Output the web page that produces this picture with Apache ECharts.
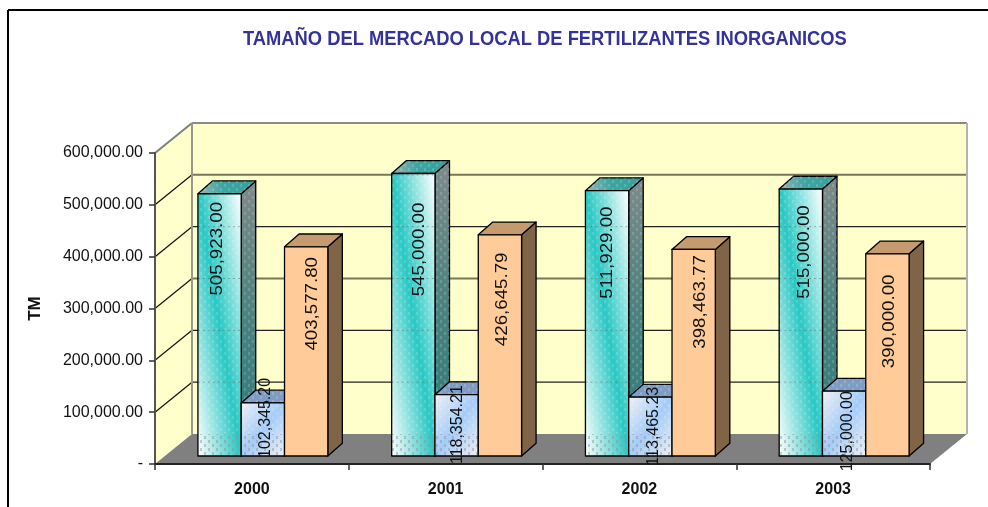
<!DOCTYPE html>
<html>
<head>
<meta charset="utf-8">
<style>html,body{margin:0;padding:0;background:#fff;overflow:hidden}#c{width:988px;height:507px}</style>
<script src="https://cdn.jsdelivr.net/npm/echarts@6/dist/echarts.min.js"></script>
</head>
<body>
<div id="c"></div>
<script>
const titleText = 'TAMAÑO DEL MERCADO LOCAL DE FERTILIZANTES INORGANICOS';
const categories = ['2000', '2001', '2002', '2003'];
const cyanValues = [505923.00, 545000.00, 511929.00, 515000.00];
const blueValues = [102345.20, 118354.21, 113465.23, 125000.00];
const orangeValues = [403577.80, 426645.79, 398463.77, 390000.00];
const yTicks = [0, 100000, 200000, 300000, 400000, 500000, 600000];

// label nudges relative to the bar's top (down) and centre (right), in pixels
const cyanLabelDrop = [55, 76, 62, 63], cyanLabelShift = [-2, 6, 0, 3];
const blueLabelDrop = [15, 30, 29, 40], blueLabelShift = [2.5, 0.5, 3, 3];
const orangeLabelDrop = [57, 64.5, 52.5, 67.5], orangeLabelShift = [6, 2.5, 7, 2];

const FONT = '"Liberation Sans", Arial, sans-serif';
const WALL = [37, -30];      // wall depth
const BAR = [14.5, -12.8];   // bar depth
const INSET = [11, -8];      // bar front plane relative to axis plane
const BAR_W = 43.3;

function makePattern(color) {
  const c = document.createElement('canvas');
  c.width = 8; c.height = 8;
  const g = c.getContext('2d');
  g.fillStyle = color;
  g.fillRect(0, 0, 2, 3);
  g.fillRect(4, 4, 2, 3);
  return c;
}
const pattern = { image: makePattern('rgba(255,255,255,0.16)'), repeat: 'repeat' };
const floorPattern = { image: makePattern('rgba(120,120,120,0.38)'), repeat: 'repeat' };

// gradient over a bar's front, skewed so its bands follow one of the face's diagonals
function faceGradient(x, y, w, h, alongMainDiagonal, colors) {
  const L = Math.sqrt(w * w + h * h);
  const dx = h / L, dy = (alongMainDiagonal ? -w : w) / L;
  const half = w * h / L;
  const cx = x + w / 2, cy = y + h / 2;
  return {
    type: 'linear', global: true,
    x: cx - dx * half, y: cy - dy * half, x2: cx + dx * half, y2: cy + dy * half,
    colorStops: colors.map((color, i) => ({ offset: i / (colors.length - 1), color }))
  };
}
const looks = [
  {
    front: (x, y, w, h) => faceGradient(x, y, w, h, true, ['#ffffff', '#28c8c4', '#ffffff']),
    top: { type: 'linear', x: 1, y: 0, x2: 0, y2: 1, colorStops: [{ offset: 0, color: '#3a9f9b' }, { offset: 0.55, color: '#3aa6a2' }, { offset: 1, color: '#a3b4b4' }] },
    side: { type: 'linear', x: 0, y: 0, x2: 0, y2: 1, colorStops: [{ offset: 0, color: '#7f8a8a' }, { offset: 0.5, color: '#4a827f' }, { offset: 1, color: '#2a7c7a' }] },
    tex: true, font: 17, scale: 1.1
  },
  {
    front: (x, y, w, h) => faceGradient(x, y, w, h, false, ['#eef0f4', '#a4ccf8', '#eef0f4']),
    top: '#7f9cc4', side: '#5f7f9f', tex: true, font: 16, scale: 1
  },
  { front: () => '#FFCC99', top: '#C49A6E', side: '#806448', tex: false, font: 17, scale: 1.1 }
];

function wallsItem(params, api) {
  const o = api.coord([0, 0]);
  const leftX = o[0] - api.size([1, 0])[0] / 2;
  const rightX = leftX + api.size([1, 0])[0] * categories.length;
  const y0 = o[1];
  const yTop = api.coord([0, yTicks[yTicks.length - 1]])[1];
  const bx = leftX + WALL[0], by = y0 + WALL[1];
  const wall = '#FFFFCC';
  const kids = [
    { type: 'polygon', shape: { points: [[leftX, y0], [leftX, yTop], [bx, yTop + WALL[1]], [bx, by]] }, style: { fill: wall, stroke: null } },
    { type: 'polygon', shape: { points: [[bx, yTop + WALL[1]], [rightX + WALL[0], yTop + WALL[1]], [rightX + WALL[0], by], [bx, by]] }, style: { fill: wall, stroke: null } },
    { type: 'polygon', shape: { points: [[leftX, y0], [bx, by], [rightX + WALL[0], by], [rightX, y0]] }, style: { fill: '#808080', stroke: null } }
  ];
  yTicks.forEach((t, k) => {
    if (t === 0) return;
    const y = api.coord([0, t])[1];
    const top = k === yTicks.length - 1;
    const heavy = t === 300000 || t === 500000;
    kids.push({ type: 'line', shape: { x1: leftX, y1: y, x2: bx, y2: y + WALL[1] }, style: { stroke: top ? '#808080' : '#111', lineWidth: top ? 2 : 1.2 } });
    kids.push({ type: 'line', shape: { x1: bx, y1: y + WALL[1], x2: rightX + WALL[0], y2: y + WALL[1] }, style: { stroke: top ? '#8a8a80' : heavy ? '#77775a' : '#222', lineWidth: heavy || top ? 2 : 1.2 } });
  });
  kids.push({ type: 'line', shape: { x1: bx, y1: yTop + WALL[1], x2: bx, y2: by }, style: { stroke: '#99998f', lineWidth: 2 } });
  kids.push({ type: 'line', shape: { x1: rightX + WALL[0], y1: yTop + WALL[1], x2: rightX + WALL[0], y2: by }, style: { stroke: '#b4b4aa', lineWidth: 2 } });
  return { type: 'group', children: kids };
}

function barRenderer(seriesPos, drops, shifts) {
  const look = looks[seriesPos];
  return function (params, api) {
    const i = api.value(0), v = api.value(1);
    const c = api.coord([i, v]), b = api.coord([i, 0]);
    const x0 = c[0] + INSET[0] + (seriesPos - 1.5) * BAR_W, x1 = x0 + BAR_W;
    const yT = c[1] + INSET[1], yB = b[1] + INSET[1];
    const dx = BAR[0], dy = BAR[1];
    const edge = { stroke: '#000', lineWidth: 1.3, lineJoin: 'round' };
    const sidePts = [[x1, yT], [x1 + dx, yT + dy], [x1 + dx, yB + dy], [x1, yB]];
    const topPts = [[x0, yT], [x0 + dx, yT + dy], [x1 + dx, yT + dy], [x1, yT]];
    const faceRect = { x: x0, y: yT, width: BAR_W, height: yB - yT };
    const kids = [
      { type: 'polygon', shape: { points: sidePts }, style: Object.assign({ fill: look.side }, edge) },
      { type: 'polygon', shape: { points: topPts }, style: Object.assign({ fill: look.top }, edge) }
    ];
    if (look.tex) {
      kids.push({ type: 'polygon', shape: { points: sidePts }, style: { fill: pattern } });
      kids.push({ type: 'polygon', shape: { points: topPts }, style: { fill: pattern } });
    }
    kids.push({ type: 'rect', shape: faceRect, style: { fill: look.front(x0, yT, BAR_W, yB - yT), stroke: null } });
    if (look.tex) {
      kids.push({ type: 'rect', shape: faceRect, style: { fill: pattern } });
      // the textured face lets the floor and the gridlines behind it show faintly
      const floorY = b[1] + WALL[1];
      kids.push({ type: 'rect', shape: { x: x0, y: floorY, width: BAR_W, height: yB - floorY }, style: { fill: floorPattern } });
      yTicks.forEach(t => {
        if (t === 0) return;
        const gy = api.coord([0, t])[1] + WALL[1];
        if (gy > yT && gy < yB) {
          kids.push({ type: 'line', shape: { x1: x0, y1: gy, x2: x1, y2: gy }, style: { stroke: 'rgba(90,90,80,0.45)', lineWidth: 1, lineDash: [2, 3] } });
        }
      });
    }
    kids.push({ type: 'rect', shape: faceRect, style: Object.assign({ fill: 'none' }, edge) });
    const txt = v.toLocaleString('en-US', { minimumFractionDigits: 2, maximumFractionDigits: 2 });
    kids.push({
      type: 'text', z2: 50,
      x: (x0 + x1) / 2 + shifts[i], y: yT + drops[i],
      rotation: Math.PI / 2, scaleX: look.scale, scaleY: 1,
      style: { text: txt, fill: '#111', font: look.font + 'px ' + FONT, align: 'center', verticalAlign: 'middle' }
    });
    return { type: 'group', children: kids };
  };
}

const chart = echarts.init(document.getElementById('c'), null, { renderer: 'canvas' });
const toRows = arr => arr.map((v, i) => [i, v]);
chart.setOption({
  animation: false,
  backgroundColor: '#fff',
  grid: { left: 155, top: 153, width: 775, height: 311, containLabel: false },
  xAxis: {
    type: 'category', data: categories, z: 3,
    axisLine: { lineStyle: { color: '#222', width: 2 } },
    axisTick: { show: true, length: 6, lineStyle: { color: '#333', width: 1.5 } },
    axisLabel: { color: '#111', fontFamily: FONT, fontWeight: 'bold', fontSize: 16, margin: 18 }
  },
  yAxis: {
    type: 'value', min: 0, max: 600000, interval: 100000, z: 3,
    name: 'TM', nameLocation: 'middle', nameRotate: 90, nameGap: 111,
    nameTextStyle: { color: '#111', fontFamily: FONT, fontWeight: 'bold', fontSize: 17 },
    splitLine: { show: false },
    axisLine: { show: true, lineStyle: { color: '#555', width: 2 } },
    axisTick: { show: true, length: 6, lineStyle: { color: '#333', width: 1.5 } },
    axisLabel: {
      color: '#111', fontFamily: FONT, fontSize: 16, margin: 12, padding: [2, 0, 0, 0],
      formatter: v => v === 0 ? '-' : v.toLocaleString('en-US', { minimumFractionDigits: 2, maximumFractionDigits: 2 })
    }
  },
  graphic: [
    { type: 'line', shape: { x1: 8, y1: 10, x2: 988, y2: 10 }, style: { stroke: '#000', lineWidth: 2 } },
    { type: 'line', shape: { x1: 8, y1: 10, x2: 8, y2: 507 }, style: { stroke: '#000', lineWidth: 2 } },
    {
      type: 'text', x: 243, y: 39, scaleX: 0.917, scaleY: 1,
      style: { text: titleText, fill: '#333399', font: 'bold 20px ' + FONT, align: 'left', verticalAlign: 'middle' }
    }
  ],
  series: [
    { type: 'custom', name: 'walls', z: 1, silent: true, clip: false, data: [[0, 0]], encode: { x: 0, y: 1 }, renderItem: wallsItem },
    { type: 'custom', name: 'A', z: 4, clip: false, data: toRows(cyanValues), encode: { x: 0, y: 1 }, renderItem: barRenderer(0, cyanLabelDrop, cyanLabelShift) },
    { type: 'custom', name: 'B', z: 5, clip: false, data: toRows(blueValues), encode: { x: 0, y: 1 }, renderItem: barRenderer(1, blueLabelDrop, blueLabelShift) },
    { type: 'custom', name: 'C', z: 6, clip: false, data: toRows(orangeValues), encode: { x: 0, y: 1 }, renderItem: barRenderer(2, orangeLabelDrop, orangeLabelShift) }
  ]
});
</script>
</body>
</html>
